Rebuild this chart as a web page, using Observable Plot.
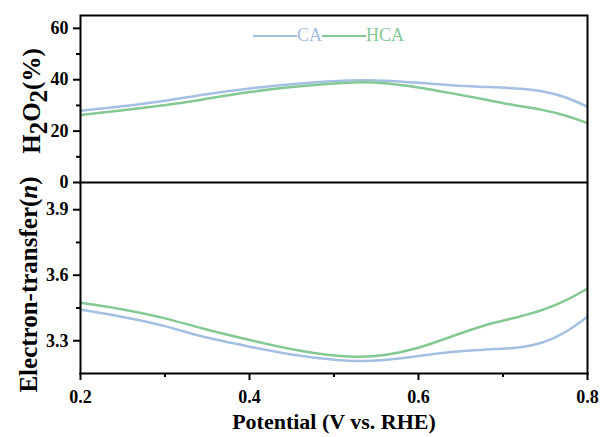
<!DOCTYPE html>
<html>
<head>
<meta charset="utf-8">
<script src="https://cdn.jsdelivr.net/npm/d3@7"></script>
<script src="https://cdn.jsdelivr.net/npm/@observablehq/plot@0.6"></script>
<style>
  body { margin: 0; background: white; }
  #wrap { position: relative; width: 603px; height: 437px; }
  #wrap svg { overflow: visible; display: block; }
  #legend { position: absolute; left: 253px; top: 25px; font-family: "Liberation Serif", serif; font-size: 18px; display: flex; align-items: center; }
  #legend .sw { display: inline-block; height: 0; border-top: 2.5px solid; }
</style>
</head>
<body>
<div id="wrap"></div>
<script>
// Potential (V vs. RHE)
const potential = [0.2, 0.25, 0.3, 0.342, 0.4, 0.46, 0.52, 0.56, 0.6, 0.638, 0.677, 0.717, 0.748, 0.776, 0.8];
// H2O2 (%)
const h2o2CA  = [27.9, 29.7, 31.6, 34.1, 36.7, 38.6, 39.9, 39.8, 38.8, 37.8, 37.2, 36.7, 35.7, 33.2, 29.5];
const h2o2HCA = [26.3, 28.1, 30.0, 32.1, 35.4, 37.5, 39.2, 38.9, 37.1, 34.8, 32.4, 29.8, 28.3, 26.0, 23.1];
// Electron-transfer number n
const nCA  = [3.443, 3.41, 3.37, 3.318, 3.273, 3.227, 3.204, 3.209, 3.23, 3.25, 3.26, 3.265, 3.288, 3.341, 3.41];
const nHCA = [3.474, 3.445, 3.405, 3.357, 3.303, 3.25, 3.222, 3.23, 3.265, 3.318, 3.372, 3.407, 3.44, 3.486, 3.539];

const series = ["CA", "HCA"];
const colors = ["#a3c0e2", "#84c893"];
const xMajor = [0.2, 0.4, 0.6, 0.8];
const xMinor = [0.3, 0.5, 0.7];
const topMajor = [0, 20, 40, 60];
const topMinor = [10, 30, 50];
const botMajor = [3.3, 3.6, 3.9];
const botMinor = [3.45, 3.75];

const topData = potential.flatMap((p, i) => [
  {x: p, y: h2o2CA[i], s: "CA"}, {x: p, y: h2o2HCA[i], s: "HCA"}]);
const botData = potential.flatMap((p, i) => [
  {x: p, y: nCA[i], s: "CA"}, {x: p, y: nHCA[i], s: "HCA"}]);

const font = "Liberation Serif";
const W = 603;
const colorScale = {domain: series, range: colors};

const topPlot = Plot.plot({
  width: W, height: 183,
  marginLeft: 80, marginRight: 16, marginTop: 15, marginBottom: 1,
  style: {fontFamily: font, fontSize: "18px", fontWeight: "bold", color: "black", overflow: "visible"},
  x: {domain: [0.2, 0.8], axis: null},
  y: {domain: [0, 65], axis: null},
  color: colorScale,
  marks: [
    Plot.axisY(topMajor, {tickSize: 7, tickPadding: 5, tickFormat: d => String(d), strokeWidth: 2, label: null}),
    Plot.axisY(topMinor, {tickSize: 4, tickFormat: () => "", strokeWidth: 2, label: null}),
    Plot.line(topData, {x: "x", y: "y", z: "s", stroke: "s", strokeWidth: 2.5, curve: "basis"}),
    Plot.frame({stroke: "black", strokeWidth: 2}),
    Plot.text(["H2O2(%)"], {frameAnchor: "left", textAnchor: "middle", dx: -49, dy: 2, rotate: -90, fontSize: 25, fontWeight: "bold", lineAnchor: "middle", text: d => d})
  ]
});

const botPlot = Plot.plot({
  width: W, height: 254,
  marginLeft: 80, marginRight: 16, marginTop: 0, marginBottom: 64,
  style: {fontFamily: font, fontSize: "18px", fontWeight: "bold", color: "black", overflow: "visible"},
  x: {domain: [0.2, 0.8], axis: null},
  y: {domain: [3.15, 4.02], axis: null},
  color: colorScale,
  marks: [
    Plot.axisY(botMajor, {tickSize: 7, tickPadding: 5, tickFormat: d => d.toFixed(1), strokeWidth: 2, label: null}),
    Plot.axisY(botMinor, {tickSize: 4, tickFormat: () => "", strokeWidth: 2, label: null}),
    Plot.axisX(xMajor, {tickSize: 7, tickPadding: 10, tickFormat: d => d.toFixed(1), strokeWidth: 2, label: null}),
    Plot.axisX(xMinor, {tickSize: 4, tickFormat: () => "", strokeWidth: 2, label: null}),
    Plot.line(botData, {x: "x", y: "y", z: "s", stroke: "s", strokeWidth: 2.5, curve: "basis"}),
    Plot.frame({anchor: "left", stroke: "black", strokeWidth: 2}),
    Plot.frame({anchor: "right", stroke: "black", strokeWidth: 2}),
    Plot.frame({anchor: "bottom", stroke: "black", strokeWidth: 2}),
    Plot.text(["Electron-transfer(n)"], {frameAnchor: "left", textAnchor: "middle", dx: -52, dy: 6, rotate: -90, fontSize: 25, fontWeight: "bold", lineAnchor: "middle", text: d => d}),
    Plot.text(["Potential (V vs. RHE)"], {frameAnchor: "bottom", dy: 48, fontSize: 22, fontWeight: "bold", lineAnchor: "middle", text: d => d})
  ]
});

const wrap = document.getElementById("wrap");
wrap.appendChild(topPlot);
wrap.appendChild(botPlot);

// rich text for axis titles
d3.select(topPlot).selectAll("text").filter(function() { return this.textContent === "H2O2(%)"; })
  .each(function() {
    const t = d3.select(this); t.text("");
    t.append("tspan").text("H");
    t.append("tspan").attr("dy", "0.3em").text("2");
    t.append("tspan").attr("dy", "-0.3em").text("O");
    t.append("tspan").attr("dy", "0.3em").text("2");
    t.append("tspan").attr("dy", "-0.3em").text("(%)");
  });
d3.select(botPlot).selectAll("text").filter(function() { return this.textContent === "Electron-transfer(n)"; })
  .each(function() {
    const t = d3.select(this); t.text("");
    t.append("tspan").text("Electron-transfer(");
    t.append("tspan").attr("font-style", "italic").text("n");
    t.append("tspan").text(")");
  });

// legend
const legend = document.createElement("div");
legend.id = "legend";
series.forEach((s, i) => {
  const sw = document.createElement("span");
  sw.className = "sw";
  sw.style.width = "44px";
  sw.style.borderColor = colors[i];
  const lab = document.createElement("span");
  lab.textContent = s;
  lab.style.color = colors[i];
  legend.appendChild(sw);
  legend.appendChild(lab);
});
wrap.appendChild(legend);
</script>
</body>
</html>
